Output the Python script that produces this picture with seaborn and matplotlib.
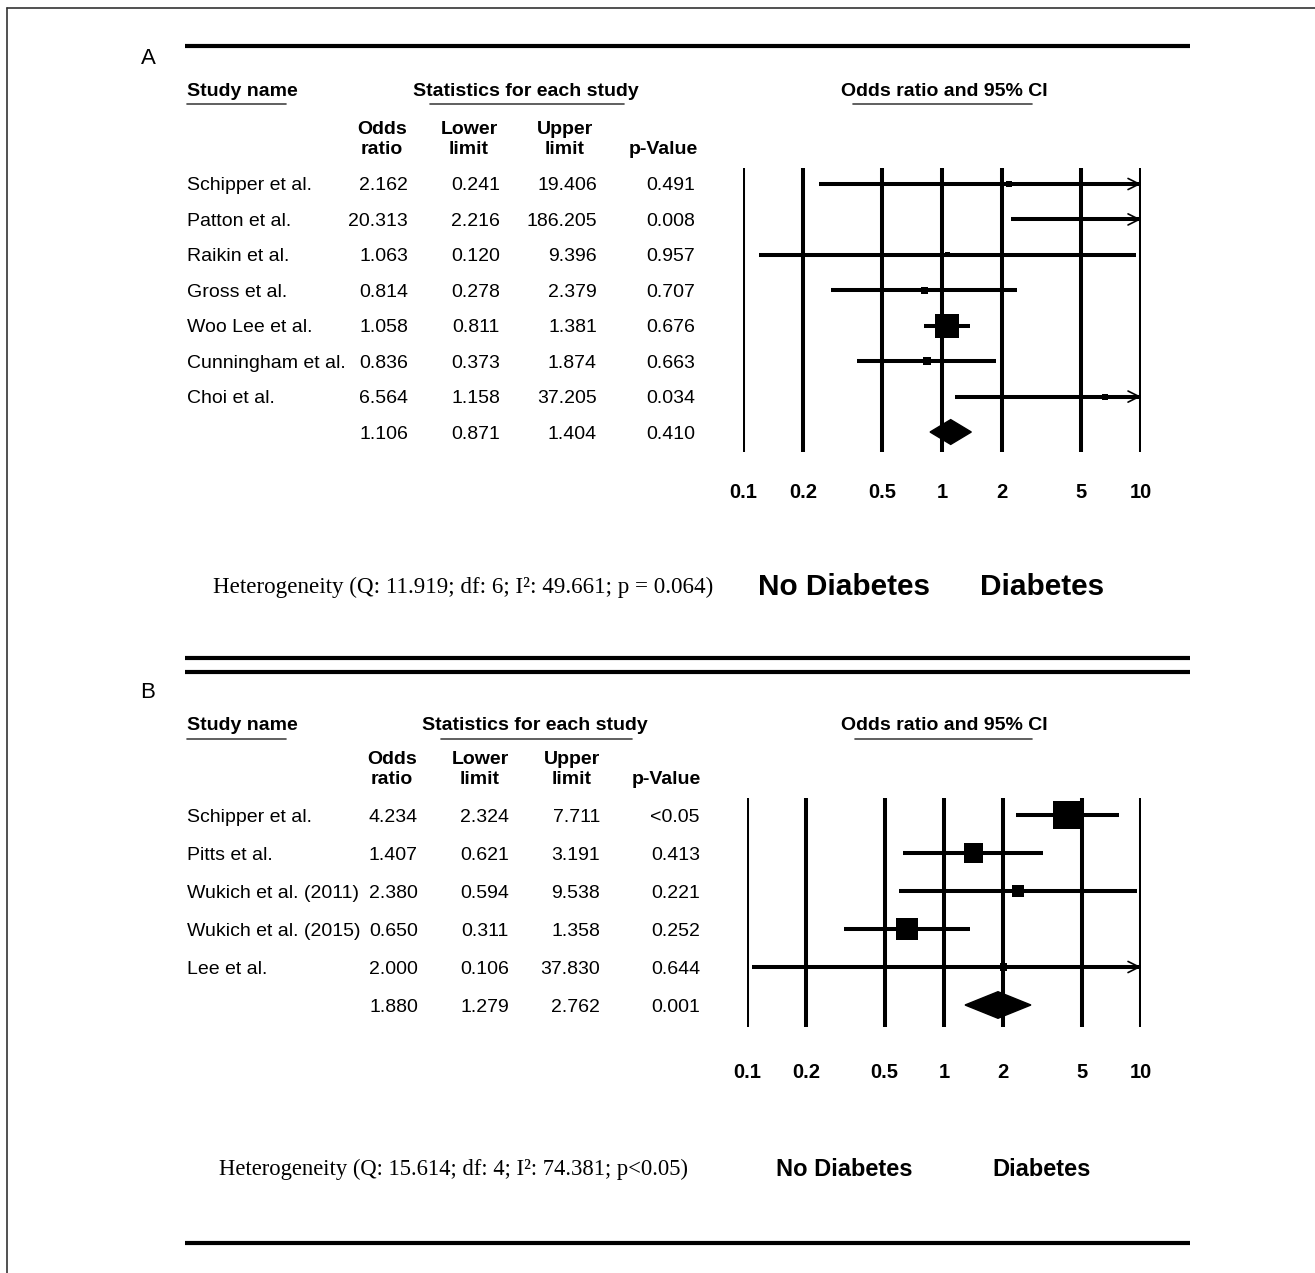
import numpy as np
import pandas as pd
import seaborn as sns
import matplotlib.pyplot as plt

# Panel A data
studies_a = ['Schipper et al.', 'Patton et al.', 'Raikin et al.', 'Gross et al.',
             'Woo Lee et al.', 'Cunningham et al.', 'Choi et al.']
or_a = [2.162, 20.313, 1.063, 0.814, 1.058, 0.836, 6.564]
lower_a = [0.241, 2.216, 0.120, 0.278, 0.811, 0.373, 1.158]
upper_a = [19.406, 186.205, 9.396, 2.379, 1.381, 1.874, 37.205]
pval_a = ['0.491', '0.008', '0.957', '0.707', '0.676', '0.663', '0.034']
weight_a = [4.4, 4.4, 3.0, 6.0, 70.1, 7.8, 4.4]   # relative weights (box area)
pooled_a = [1.106, 0.871, 1.404]
pooled_p_a = '0.410'
het_a = 'Heterogeneity (Q: 11.919; df: 6; I²: 49.661; p = 0.064)'

# Panel B data
studies_b = ['Schipper et al.', 'Pitts et al.', 'Wukich et al. (2011)',
             'Wukich et al. (2015)', 'Lee et al.']
or_b = [4.234, 1.407, 2.380, 0.650, 2.000]
lower_b = [2.324, 0.621, 0.594, 0.311, 0.106]
upper_b = [7.711, 3.191, 9.538, 1.358, 37.830]
pval_b = ['<0.05', '0.413', '0.221', '0.252', '0.644']
weight_b = [43.0, 19.8, 7.9, 26.6, 2.7]
pooled_b = [1.880, 1.279, 2.762]
pooled_p_b = '0.001'
het_b = 'Heterogeneity (Q: 15.614; df: 4; I²: 74.381; p<0.05)'

axis_ticks = [0.1, 0.2, 0.5, 1, 2, 5, 10]
tick_labels = ['0.1', '0.2', '0.5', '1', '2', '5', '10']

sns.set_theme(style="white")
plt.rcParams['font.family'] = ['Liberation Sans', 'DejaVu Sans']
plt.rcParams['text.color'] = 'black'

W, H = 1315, 1273
fig = plt.figure(figsize=(W / 100, H / 100), dpi=100)
bg = fig.add_axes([0, 0, 1, 1])
bg.set_xlim(0, W)
bg.set_ylim(H, 0)
bg.axis('off')

# frame of the original figure (left and top edges)
bg.plot([7, 7], [8, H], color='#333333', lw=1.2)
bg.plot([7, W], [8, 8], color='#333333', lw=1.2)

# horizontal rules
for yy in [46, 658, 672, 1243]:
    bg.plot([185, 1190], [yy, yy], color='black', lw=3, solid_capstyle='butt')

FS = 14
OFF = 2  # small vertical nudge for text


def txt(x, y, s, **kw):
    bg.text(x, y + OFF, s, **kw)


def draw_panel(label, top, studies, ors, lows, ups, pvals, weights, pooled, pooled_p, het,
               cols, hdr_cx, row0, dy, fx0, fy0, fy1, box_max, tick_y,
               het_x, foot_y, foot_fs, het_fs, stat_hdr, or_hdr_line):
    # panel letter
    txt(148, top + 10, label, fontsize=16, ha='center', va='center')
    # headers
    hy = top + 43
    uy = hy + 15
    txt(187, hy, 'Study name', fontsize=FS, fontweight='bold', va='center')
    bg.plot([187, 286], [uy, uy], color='#444444', lw=1.2)
    txt(stat_hdr[0], hy, 'Statistics for each study', fontsize=FS, fontweight='bold',
        ha='center', va='center')
    bg.plot([stat_hdr[1], stat_hdr[2]], [uy, uy], color='#444444', lw=1.2)
    txt(944, hy, 'Odds ratio and 95% CI', fontsize=FS, fontweight='bold',
        ha='center', va='center')
    bg.plot(or_hdr_line, [uy, uy], color='#444444', lw=1.2)

    y1 = row0 - 57
    y2 = row0 - 37
    for cx, (l1, l2) in zip(hdr_cx[:3], [('Odds', 'ratio'), ('Lower', 'limit'), ('Upper', 'limit')]):
        txt(cx, y1, l1, fontsize=FS, fontweight='bold', ha='center', va='center')
        txt(cx, y2, l2, fontsize=FS, fontweight='bold', ha='center', va='center')
    txt(hdr_cx[3], y2, 'p-Value', fontsize=FS, fontweight='bold', ha='center', va='center')

    # table rows
    n = len(studies)
    for i in range(n + 1):
        yy = row0 + dy * i
        if i < n:
            txt(187, yy, studies[i], fontsize=FS, va='center')
            vals = [f'{ors[i]:.3f}', f'{lows[i]:.3f}', f'{ups[i]:.3f}', pvals[i]]
        else:
            vals = [f'{v:.3f}' for v in pooled] + [pooled_p]
        for cx, v in zip(cols, vals):
            txt(cx, yy, v, fontsize=FS, ha='right', va='center')

    # forest axes
    fx1 = 1141
    ax = fig.add_axes([fx0 / W, 1 - fy1 / H, (fx1 - fx0) / W, (fy1 - fy0) / H])
    ax.set_xscale('log')
    ax.axis('off')
    ax.patch.set_alpha(0)
    for t in axis_ticks:
        ax.axvline(t, color='black', lw=2.9)

    df = pd.DataFrame({'study': studies, 'or': ors, 'lo': lows, 'hi': ups,
                       'w': weights, 'row': np.arange(n)})
    ax.hlines(df['row'], df['lo'], df['hi'], color='black', lw=2.9)
    for _, r in df[df['hi'] > 10].iterrows():
        ax.annotate('', xy=(10, r['row']), xytext=(8.5, r['row']),
                    arrowprops=dict(arrowstyle='->', color='black', lw=1.2,
                                    mutation_scale=20, shrinkA=0, shrinkB=0))
    smax = (box_max * 0.72) ** 2
    sns.scatterplot(data=df, x='or', y='row', size='w', sizes=(0, smax),
                    size_norm=(0, max(weights)), marker='s', color='black',
                    linewidth=0, legend=False, ax=ax, zorder=5)
    ax.set_xlim(0.1, 10)
    ax.set_ylim((fy1 - row0) / dy, (fy0 - row0) / dy)
    ax.set_xlabel('')
    ax.set_ylabel('')

    # pooled diamond
    m, lo, hi = pooled
    h = 0.35
    ax.fill([lo, m, hi, m], [n, n - h, n, n + h], color='black', zorder=6)

    for t, lab in zip(axis_ticks, tick_labels):
        ax.text(t, (tick_y + OFF - row0) / dy, lab, fontsize=14.5, fontweight='bold',
                ha='center', va='center', clip_on=False)

    # footer
    txt(het_x, foot_y, het, fontsize=het_fs, va='center',
        family=['Liberation Serif', 'DejaVu Serif'])
    txt(844, foot_y, 'No Diabetes', fontsize=foot_fs, fontweight='bold',
        ha='center', va='center')
    txt(1042, foot_y, 'Diabetes', fontsize=foot_fs, fontweight='bold',
        ha='center', va='center')


draw_panel('A', 46, studies_a, or_a, lower_a, upper_a, pval_a, weight_a, pooled_a, pooled_p_a, het_a,
           cols=[408, 500, 597, 695], hdr_cx=[382, 469, 565, 663], row0=184, dy=35.43,
           fx0=743, fy0=168, fy1=452, box_max=24, tick_y=490,
           het_x=213, foot_y=585, foot_fs=21.4, het_fs=16.6,
           stat_hdr=(526, 430, 624), or_hdr_line=[853, 1032])

draw_panel('B', 681, studies_b, or_b, lower_b, upper_b, pval_b, weight_b, pooled_b, pooled_p_b, het_b,
           cols=[418, 509, 600, 700], hdr_cx=[392, 480, 572, 666], row0=815, dy=38,
           fx0=747, fy0=798, fy1=1027, box_max=28, tick_y=1070,
           het_x=219, foot_y=1167, foot_fs=17, het_fs=16.3,
           stat_hdr=(535, 441, 632), or_hdr_line=[855, 1032])

fig.savefig('out.png', dpi=100, facecolor='white')
